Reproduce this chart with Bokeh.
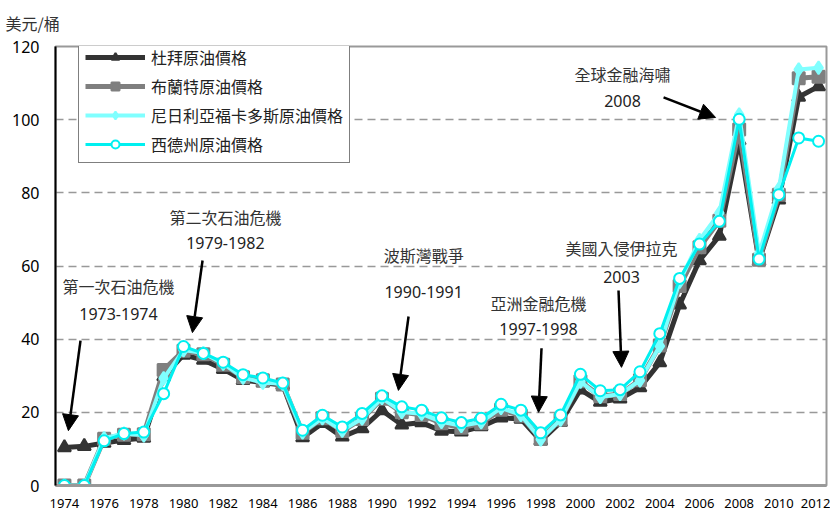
from bokeh.plotting import figure
from bokeh.models import Range1d, FixedTicker, Legend, LegendItem, Label, Arrow, NormalHead
from bokeh.embed import file_html
from bokeh.resources import INLINE

years = list(range(1974, 2013))
dubai = [10.4, 10.7, 11.6, 12.4, 13.0, 29.8, 35.7, 34.3, 31.8, 28.8, 28.1, 27.5, 13.1, 17.0, 13.3,
         15.6, 20.5, 16.6, 17.2, 14.9, 14.7, 16.1, 18.5, 18.2, 12.2, 17.3, 26.2, 22.8, 23.7, 26.8,
         33.6, 49.4, 61.5, 68.2, 94.3, 61.4, 78.1, 106.2, 109.1]
brent = [0, 0, 12.8, 13.9, 14.0, 31.6, 36.8, 35.9, 33.0, 29.6, 28.8, 27.6, 14.4, 18.4, 14.9,
         18.2, 23.7, 20.0, 19.3, 17.0, 15.8, 17.0, 20.7, 19.1, 12.7, 18.0, 28.5, 24.4, 25.0, 28.8,
         38.3, 54.5, 65.1, 72.4, 97.3, 61.7, 79.5, 111.3, 111.7]
nigeria = [0, 0, 12.9, 14.2, 13.7, 29.3, 37.0, 36.2, 33.3, 29.5, 28.1, 27.8, 14.5, 18.4, 15.0,
           18.3, 23.9, 20.1, 19.6, 17.4, 16.3, 17.3, 21.2, 19.3, 12.6, 18.0, 28.4, 24.2, 25.0, 28.7,
           38.1, 55.7, 67.1, 74.5, 101.4, 63.4, 81.1, 113.7, 114.2]
wti = [0, 0, 12.2, 14.2, 14.6, 25.1, 38.0, 36.1, 33.7, 30.3, 29.4, 28.0, 15.1, 19.2, 16.0,
       19.7, 24.5, 21.5, 20.6, 18.5, 17.2, 18.4, 22.2, 20.6, 14.4, 19.3, 30.4, 25.9, 26.2, 31.1,
       41.5, 56.6, 66.0, 72.2, 100.1, 61.9, 79.5, 95.0, 94.1]
series_names = ["杜拜原油價格", "布蘭特原油價格", "尼日利亞福卡多斯原油價格", "西德州原油價格"]
x_ticks = list(range(1974, 2013, 2))
y_ticks = [0, 20, 40, 60, 80, 100, 120]
unit_label = "美元/桶"
events = [
    ("第一次石油危機", "1973-1974"),
    ("第二次石油危機", "1979-1982"),
    ("波斯灣戰爭", "1990-1991"),
    ("亞洲金融危機", "1997-1998"),
    ("美國入侵伊拉克", "2003"),
    ("全球金融海嘯", "2008"),
]

FONT = "Noto Sans CJK TC"
NUMFONT = "Noto Sans"

p = figure(width=830, height=510, output_backend="svg", toolbar_location=None,
           x_range=Range1d(1973.55, 2012.4), y_range=Range1d(0, 120),
           min_border_left=55, min_border_right=4, min_border_top=46, min_border_bottom=25)
p.background_fill_color = "white"
p.border_fill_color = "white"
p.outline_line_color = "#999999"
p.outline_line_width = 2

p.title.text = unit_label
p.title.align = "left"
p.title.offset = -50
p.title.standoff = 20
p.title.vertical_align = "top"
p.title.text_font = FONT
p.title.text_font_size = "16px"
p.title.text_font_style = "normal"
p.title.text_color = "#333333"

p.xgrid.grid_line_color = None
p.ygrid.grid_line_color = "#999999"
p.ygrid.grid_line_dash = "8 5"
p.ygrid.grid_line_width = 1.5

p.xaxis.ticker = FixedTicker(ticks=x_ticks)
p.yaxis.ticker = FixedTicker(ticks=y_ticks)
for ax in (p.xaxis, p.yaxis):
    ax.major_tick_line_color = None
    ax.minor_tick_line_color = None
    ax.major_label_text_font = NUMFONT
    ax.major_label_text_color = "black"
p.xaxis.major_label_text_font_size = "13px"
p.yaxis.major_label_text_font_size = "16px"
p.xaxis.major_label_standoff = 7
p.yaxis.major_label_standoff = 10
p.xaxis.axis_line_color = "#999999"
p.xaxis.axis_line_width = 3
p.yaxis.axis_line_color = "black"
p.yaxis.axis_line_width = 2

styles = [
    ("#333333", 5, "triangle", 13, "#333333", "#333333"),
    ("#7f7f7f", 5, "square", 12, "#7f7f7f", "#7f7f7f"),
    ("#80ffff", 4, "diamond", 13, "#80ffff", "#80ffff"),
    ("#00f0f0", 3, "circle", 11, "white", "#00f0f0"),
]
items = []
for name, data, (lc, lw, mk, ms, fc, mc) in zip(series_names, [dubai, brent, nigeria, wti], styles):
    r1 = p.line(years, data, line_color=lc, line_width=lw)
    r2 = p.scatter(years, data, marker=mk, size=ms, fill_color=fc, line_color=mc, line_width=2)
    items.append(LegendItem(label=name, renderers=[r1, r2]))

legend = Legend(items=items, location=(23, 322), orientation="vertical")
legend.label_text_font = FONT
legend.label_text_font_size = "16px"
legend.label_text_color = "#222222"
legend.glyph_width = 60
legend.glyph_height = 20
legend.label_height = 20
legend.spacing = 5
legend.padding = 6
legend.margin = 0
legend.label_standoff = 6
legend.border_line_color = "black"
legend.border_line_width = 1
legend.background_fill_alpha = 1
p.add_layout(legend, "center")

# annotation positions (data coordinates)
ann_pos = [
    (1976.72, 54.4, 47.0, (1974.81, 39.6), (1974.2, 15.0)),
    (1982.11, 73.3, 66.2, (1980.96, 61.5), (1980.45, 41.8)),
    (1992.1, 62.9, 53.0, (1991.34, 46.2), (1990.83, 26.0)),
    (1997.89, 50.0, 42.65, (1998.04, 37.5), (1997.89, 20.0)),
    (2002.07, 64.8, 57.1, (2001.92, 53.3), (2002.07, 32.3)),
    (2002.12, 112.6, 105.0, (2004.19, 106.1), (2006.81, 100.6)),
]
for (t1, t2), (cx, y1, y2, a0, a1) in zip(events, ann_pos):
    p.add_layout(Label(x=cx, y=y1, text=t1, text_align="center", text_baseline="middle",
                       text_font=FONT, text_font_size="16px", text_color="#333333"))
    p.add_layout(Label(x=cx, y=y2, text=t2, text_align="center", text_baseline="middle",
                       text_font=NUMFONT, text_font_size="16px", text_color="#222222"))
    p.add_layout(Arrow(x_start=a0[0], y_start=a0[1], x_end=a1[0], y_end=a1[1],
                       line_color="black", line_width=2.5,
                       end=NormalHead(size=16, fill_color="black", line_color="black")))

open("out.html", "w").write(file_html(p, INLINE))
